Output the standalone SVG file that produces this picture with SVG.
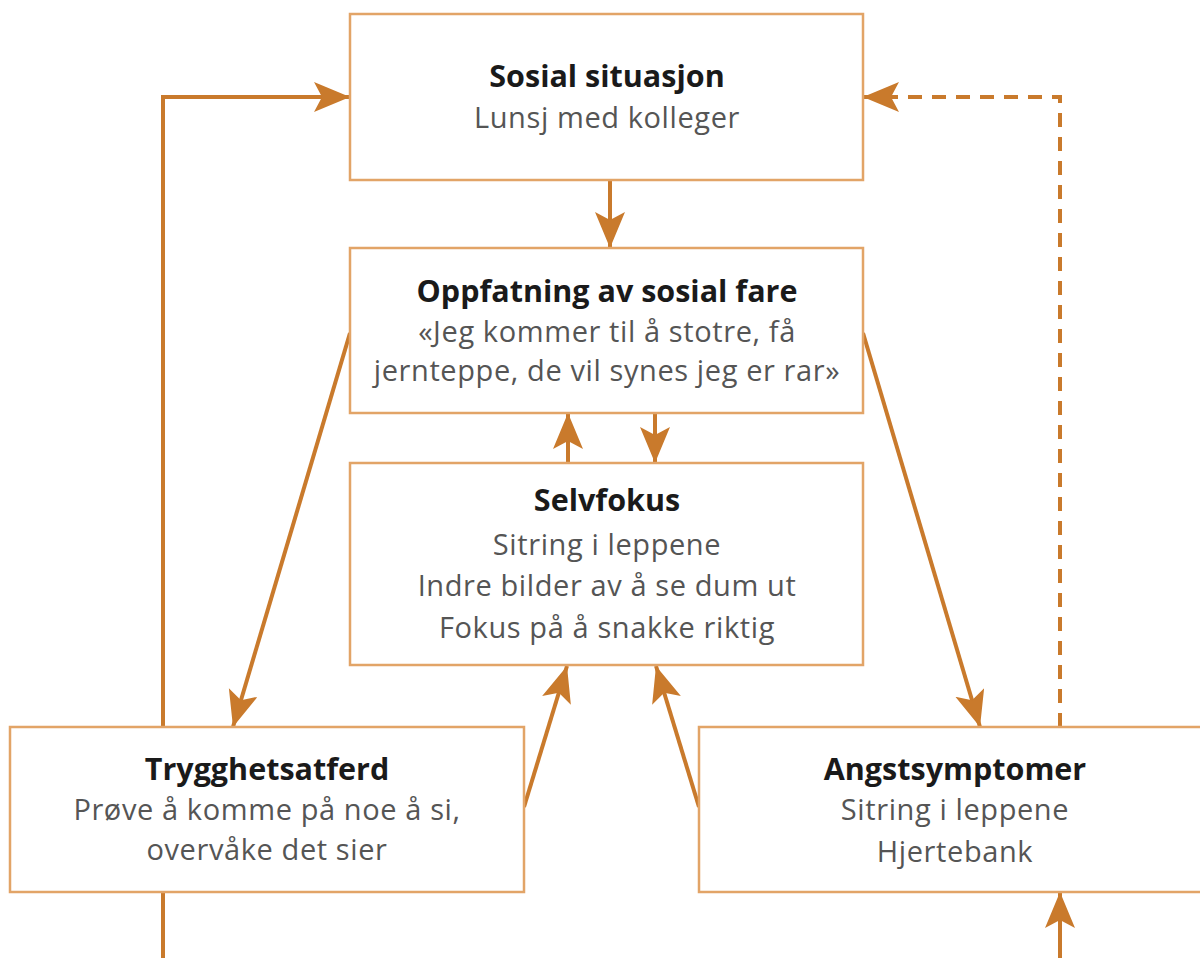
<svg xmlns="http://www.w3.org/2000/svg" width="1200" height="958" viewBox="0 0 1200 958">
<style>
.box{fill:#fff;stroke:#E2A467;stroke-width:2.5}
.c{fill:none;stroke:#C97A2C;stroke-width:4}
.d{fill:none;stroke:#C97A2C;stroke-width:4;stroke-dasharray:14 10}
.t{font-family:"Open Sans","Liberation Sans",Arial,sans-serif;font-size:29px;letter-spacing:0.6px;fill:#555;text-anchor:middle}
.b{font-family:"Open Sans","Liberation Sans",Arial,sans-serif;font-size:30.5px;font-weight:bold;fill:#1a1a1a;text-anchor:middle}
</style>
<defs>
<marker id="ah" markerUnits="userSpaceOnUse" markerWidth="38" markerHeight="32" refX="36" refY="15" orient="auto">
<path d="M0,0 L36,15 L0,30 L8,15 z" fill="#C97A2C"/>
</marker>
</defs>
<rect width="1200" height="958" fill="#fff"/>
<g id="connectors">
<line class="c" x1="163" y1="958" x2="163" y2="892"/>
<polyline class="c" points="163,727 163,97 350,97" marker-end="url(#ah)"/>
<polyline class="d" points="1060,727 1060,97 863,97" marker-end="url(#ah)"/>
<line class="c" x1="610" y1="180" x2="610" y2="248" marker-end="url(#ah)"/>
<line class="c" x1="568" y1="463" x2="568" y2="413" marker-end="url(#ah)"/>
<line class="c" x1="655" y1="413" x2="655" y2="463" marker-end="url(#ah)"/>
<line class="c" x1="350" y1="333" x2="233" y2="727" marker-end="url(#ah)"/>
<line class="c" x1="863" y1="333" x2="980" y2="727" marker-end="url(#ah)"/>
<line class="c" x1="524" y1="807" x2="567" y2="666" marker-end="url(#ah)"/>
<line class="c" x1="699" y1="807" x2="656" y2="666" marker-end="url(#ah)"/>
<line class="c" x1="1060" y1="958" x2="1060" y2="892" marker-end="url(#ah)"/>
</g>
<g id="sosial-situasjon">
<rect class="box" x="350" y="14" width="513" height="166"/>
<text class="b" x="607" y="87">Sosial situasjon</text>
<text class="t" x="607" y="128">Lunsj med kolleger</text>
</g>
<g id="oppfatning">
<rect class="box" x="350" y="248" width="513" height="165"/>
<text class="b" x="607" y="302">Oppfatning av sosial fare</text>
<text class="t" x="607" y="342">«Jeg kommer til å stotre, få</text>
<text class="t" x="607" y="381">jernteppe, de vil synes jeg er rar»</text>
</g>
<g id="selvfokus">
<rect class="box" x="350" y="463" width="513" height="202"/>
<text class="b" x="607" y="511">Selvfokus</text>
<text class="t" x="607" y="555">Sitring i leppene</text>
<text class="t" x="607" y="596">Indre bilder av å se dum ut</text>
<text class="t" x="607" y="638">Fokus på å snakke riktig</text>
</g>
<g id="trygghetsatferd">
<rect class="box" x="10" y="727" width="514" height="165"/>
<text class="b" x="267" y="780">Trygghetsatferd</text>
<text class="t" x="267" y="820">Prøve å komme på noe å si,</text>
<text class="t" x="267" y="860">overvåke det sier</text>
</g>
<g id="angstsymptomer">
<rect class="box" x="699" y="727" width="520" height="165"/>
<text class="b" x="955" y="780">Angstsymptomer</text>
<text class="t" x="955" y="820">Sitring i leppene</text>
<text class="t" x="955" y="862">Hjertebank</text>
</g>
</svg>
